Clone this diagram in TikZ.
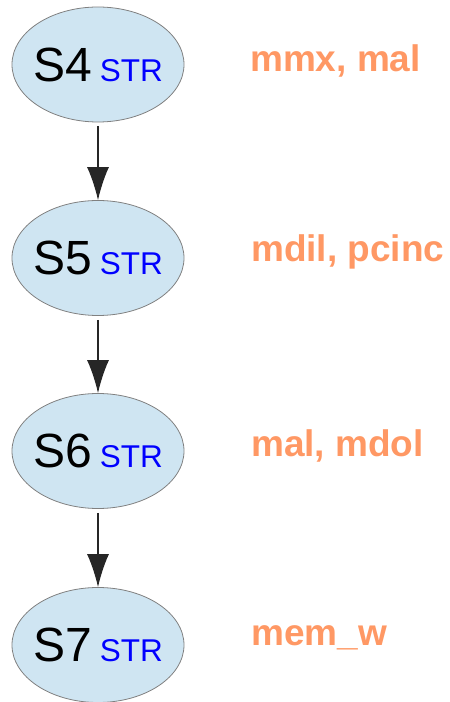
\documentclass[tikz,border=0pt]{standalone}
\usepackage{fontspec}
\setmainfont{Liberation Sans}
\usepackage{xcolor}
\usepackage{tikz}
\usetikzlibrary{shapes.geometric,arrows.meta}
\definecolor{statefill}{RGB}{207,229,242}
\definecolor{oplabel}{RGB}{255,152,100}
\newcommand{\strtag}{{\fontsize{31.5}{32}\selectfont\color{blue}STR}}

\begin{document}
\begin{tikzpicture}[x=1pt,y=1pt,
    state node/.style={ellipse,draw=black!50,line width=0.8pt,fill=statefill,inner xsep=-8pt,inner ysep=0pt,
      minimum width=172pt,minimum height=115pt,font=\fontsize{48}{48}\selectfont},
    op node/.style={anchor=base west,inner sep=0pt,text=oplabel,font=\fontsize{37}{40}\selectfont\bfseries},
    flow/.style={line width=1.3pt,draw=black!85,shorten <=4pt,-{Latex[length=33pt,width=22pt]}}]
        \useasboundingbox (0,0) rectangle (450,702);
        \node[state node] (s4) at (98,637.5) {S4\hspace{8pt}\strtag};
        \node[state node] (s5) at (98,444) {S5\hspace{8pt}\strtag};
        \node[state node] (s6) at (98,251) {S6\hspace{8pt}\strtag};
        \node[state node] (s7) at (98,57) {S7\hspace{8pt}\strtag};
        % micro-ops beside each state
        \node[op node] (o4) at (250,630) {mmx, mal};
        \node[op node] (o5) at (251,440) {mdil, pcinc};
        \node[op node] (o6) at (251,245) {mal, mdol};
        \node[op node] (o7) at (251,56) {mem\_w};
        \path
          (s4) edge[flow] (s5)
          (s5) edge[flow] (s6)
          (s6) edge[flow] (s7);
      \end{tikzpicture}
\end{document}
